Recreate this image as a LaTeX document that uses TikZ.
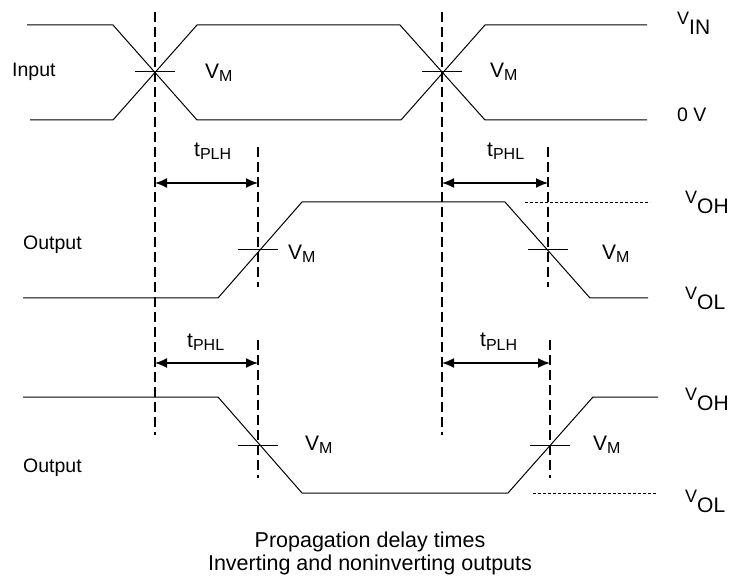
\documentclass[tikz,border=0pt]{standalone}
\usepackage{fontspec}
\setmainfont{Liberation Sans}
\usetikzlibrary{arrows.meta}
% subscripted labels: V_M, t_PLH, ...
\newcommand{\vsub}[2]{{\fontsize{21}{21}\selectfont #1}\raisebox{-3pt}{\fontsize{16}{16}\selectfont #2}}
% level labels with the small raised V
\newcommand{\vlvl}[1]{\raisebox{10pt}{\fontsize{18}{18}\selectfont V}{\fontsize{21}{21}\selectfont #1}}

\begin{document}
\begin{tikzpicture}[x=1pt, y=-1pt, font=\fontsize{19.5}{21}\selectfont,
    wave/.style={line width=1pt},
    marker/.style={line width=2.3pt, dash pattern=on 10pt off 5pt},
    refline/.style={line width=0.9pt, dash pattern=on 3pt off 2pt},
    delay/.style={line width=1.5pt, {Latex[length=12pt,width=10pt]}-{Latex[length=12pt,width=10pt]}}]
    \useasboundingbox (0,0) rectangle (731,577);
    % V_M crossing points
    \coordinate (x1) at (155,72);
    \coordinate (x2) at (442,72);
    \coordinate (x3) at (258,250);
    \coordinate (x4) at (548,250);
    \coordinate (x5) at (258,445);
    \coordinate (x6) at (550,445);
    % Input, both edges
    \draw[wave] (27,25) -- (113,25) -- (197,120) -- (401,120) -- (485,25) -- (647,25);
    \draw[wave] (30,120) -- (113,120) -- (197,25) -- (400,25) -- (485,120) -- (647,120);
    % noninverting output
    \draw[wave] (23,298) -- (218,298) -- (302,202) -- (505,202) -- (590,298) -- (648,298);
    \draw[refline] (525,202) -- (650,202);
    % inverting output
    \draw[wave] (23,397) -- (218,397) -- (302,493) -- (508,493) -- (593,397) -- (658,397);
    \draw[refline] (533,493) -- (657,493);
    % V_M ticks
    \foreach \p in {x1,x2,x3,x4,x5,x6}
        \draw[wave] ([xshift=-20pt]\p) -- ([xshift=20pt]\p);
    % dashed markers
    \draw[marker] (155,12) -- (155,435);
    \draw[marker] (442,12) -- (442,435);
    \draw[marker] (258,147) -- (258,287);
    \draw[marker] (548,147) -- (548,287);
    \draw[marker] (258,340) -- (258,478);
    \draw[marker] (550,340) -- (550,478);
    % delay arrows
    \draw[delay] (155,183) -- (258,183);
    \draw[delay] (442,183) -- (548,183);
    \draw[delay] (155,363) -- (258,363);
    \draw[delay] (442,363) -- (550,363);
    % delay labels
    \node[anchor=base west, inner sep=0pt] (tplh1) at (194,157) {\vsub{t}{PLH}};
    \node[anchor=base west, inner sep=0pt] (tphl1) at (487,157) {\vsub{t}{PHL}};
    \node[anchor=base west, inner sep=0pt] (tphl2) at (187,348) {\vsub{t}{PHL}};
    \node[anchor=base west, inner sep=0pt] (tplh2) at (480,347) {\vsub{t}{PLH}};
    % V_M labels
    \node[anchor=base west, inner sep=0pt] (vm1) at (205,79) {\vsub{V}{M}};
    \node[anchor=base west, inner sep=0pt] (vm2) at (490,78) {\vsub{V}{M}};
    \node[anchor=base west, inner sep=0pt] (vm3) at (288,260) {\vsub{V}{M}};
    \node[anchor=base west, inner sep=0pt] (vm4) at (602,260) {\vsub{V}{M}};
    \node[anchor=base west, inner sep=0pt] (vm5) at (305,450) {\vsub{V}{M}};
    \node[anchor=base west, inner sep=0pt] (vm6) at (593,450) {\vsub{V}{M}};
    % levels
    \node[anchor=base west, inner sep=0pt] (vin) at (677,35) {\vlvl{IN}};
    \node[anchor=base west, inner sep=0pt] (zero) at (677,122) {0 V};
    \node[anchor=base west, inner sep=0pt] (voh1) at (685,214) {\vlvl{OH}};
    \node[anchor=base west, inner sep=0pt] (vol1) at (685,310) {\vlvl{OL}};
    \node[anchor=base west, inner sep=0pt] (voh2) at (685,410) {\vlvl{OH}};
    \node[anchor=base west, inner sep=0pt] (vol2) at (685,512) {\vlvl{OL}};
    % signal names
    \node[anchor=base west, inner sep=0pt] (input) at (12,77) {Input};
    \node[anchor=base west, inner sep=0pt] (out1) at (23,250) {Output};
    \node[anchor=base west, inner sep=0pt] (out2) at (23,472) {Output};
    % caption
    \node[anchor=base, inner sep=0pt, font=\fontsize{21.5}{23}\selectfont] (cap1) at (370,547) {Propagation delay times};
    \node[anchor=base, inner sep=0pt, font=\fontsize{21.5}{23}\selectfont] (cap2) at (370,570) {Inverting and noninverting outputs};
\end{tikzpicture}
\end{document}
